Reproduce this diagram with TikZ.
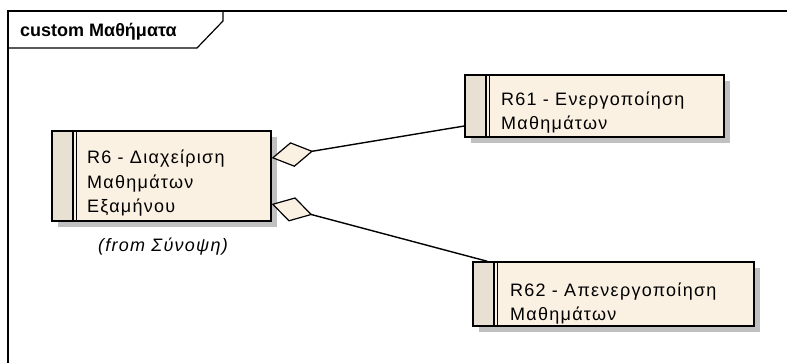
\documentclass[tikz,border=0pt]{standalone}
\usepackage{fontspec}
\setmainfont{Liberation Sans}
\newfontfamily\eafont[LetterSpace=7]{Liberation Sans}
\usetikzlibrary{arrows.meta,shadows,positioning}
\definecolor{ucfill}{RGB}{250,241,227}
\definecolor{ucstrip}{RGB}{232,224,211}
\definecolor{ucshadow}{RGB}{192,192,192}

\begin{document}
\begin{tikzpicture}[x=1pt,y=-1pt]
%% use case shape and text
\tikzstyle{usecase}=[rectangle,fill=ucfill,draw=black,line width=1.4pt,inner sep=0pt,
  drop shadow={shadow xshift=6pt,shadow yshift=-6pt,fill=ucshadow,opacity=1},
  path picture={
    \fill[ucstrip] (path picture bounding box.north west) rectangle ([xshift=21pt]path picture bounding box.south west);
    \draw[line width=1.4pt] ([xshift=21pt]path picture bounding box.north west) -- ([xshift=21pt]path picture bounding box.south west);
    \draw[line width=1.4pt] ([xshift=24.5pt]path picture bounding box.north west) -- ([xshift=24.5pt]path picture bounding box.south west);
  }]
\tikzstyle{uctext}=[anchor=base west,align=left,inner sep=0pt,font=\eafont\fontsize{18}{24.5}\selectfont]
\tikzstyle{fromtext}=[inner sep=0pt,font=\eafont\fontsize{18}{22}\selectfont\itshape]
\tikzstyle{aggr}=[{Diamond[length=42pt,width=25pt,fill=ucfill,line width=1.2pt]}-,line width=1.4pt]
\useasboundingbox (0,0) rectangle (788,363);

%%%%%%%%%%%%%%%%%%%%%%%%%%%%%%%%%%%%%%%%%%%%%%%%%%%%%%%%%%%%%%%%%%%%%%%%
%FRAME
\draw[line width=1.2pt] (8,363) -- (8,11) -- (787,11);
\draw[line width=1.2pt] (8,48) -- (197,48) -- (223,21) -- (223,11);
\node[anchor=base west,inner sep=0pt,font=\fontsize{18}{22}\selectfont\bfseries] (title) at (20,37) {custom Μαθήματα};

%%%%%%%%%%%%%%%%%%%%%%%%%%%%%%%%%%%%%%%%%%%%%%%%%%%%%%%%%%%%%%%%%%%%%%%%
%USE CASES
%R6
\node[usecase,minimum width=219pt,minimum height=90pt] (r6) at (161.5,176) {};
\node[uctext] (r6txt) at (87,213) {R6 - Διαχείριση\\Μαθημάτων\\Εξαμήνου};
\node[fromtext] (r6from) at (163,247) {(from Σύνοψη)};
%R61
\node[usecase,minimum width=259pt,minimum height=62pt] (r61) at (594.5,106) {};
\node[uctext] (r61txt) at (501,130) {R61 - Ενεργοποίηση\\Μαθημάτων};
%R62
\node[usecase,minimum width=281pt,minimum height=64pt] (r62) at (613.5,294) {};
\node[uctext] (r62txt) at (510,321) {R62 - Απενεργοποίηση\\Μαθημάτων};

%%%%%%%%%%%%%%%%%%%%%%%%%%%%%%%%%%%%%%%%%%%%%%%%%%%%%%%%%%%%%%
%AGGREGATIONS
\draw[aggr] ([yshift=18pt]r6.east) -- ([yshift=-20pt]r61.west);
\draw[aggr] ([yshift=-28pt]r6.east) -- ([xshift=15pt]r62.north west);
\end{tikzpicture}
\end{document}
